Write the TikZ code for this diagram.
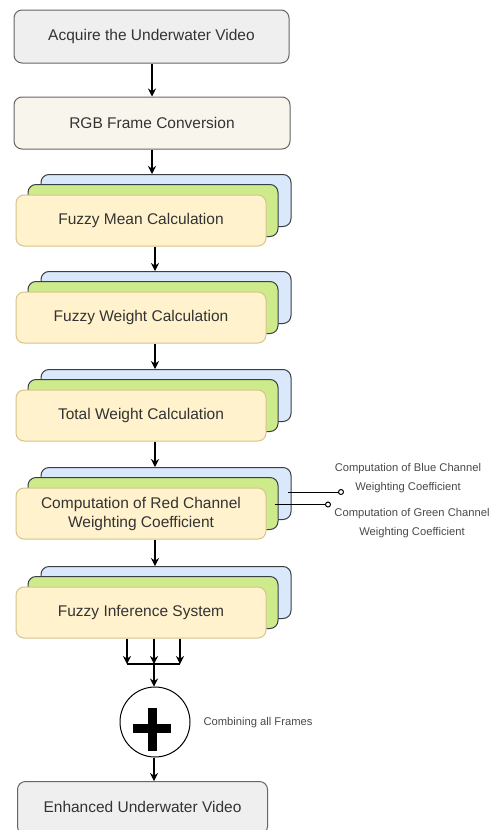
\documentclass[tikz,border=0pt]{standalone}
\usepackage{fontspec}
\setmainfont{Liberation Sans}
\usetikzlibrary{arrows.meta,calc}
\definecolor{bfill}{HTML}{DAE8FC}
\definecolor{gfill}{HTML}{CDEB8B}
\definecolor{yfill}{HTML}{FFF2CC}
\definecolor{ystroke}{HTML}{D6C48A}
\definecolor{greyfill}{HTML}{EFEFEF}
\definecolor{creamfill}{HTML}{F8F6EC}
\definecolor{dstroke}{HTML}{3A3F45}
\definecolor{txt}{HTML}{333333}
\definecolor{sidetxt}{HTML}{4A4A4A}
\tikzset{
  base/.style={draw, rounded corners=8pt, line width=1pt, inner sep=0pt, align=center,
    font=\fontsize{15.5}{19}\selectfont, text=txt},
  greybox/.style={base, draw=gray!80!black, fill=greyfill, minimum width=275pt, minimum height=53pt},
  creambox/.style={base, draw=gray!80!black, fill=creamfill, minimum width=276pt, minimum height=52pt},
  bbox/.style={base, draw=dstroke, fill=bfill, minimum width=250pt, minimum height=52pt},
  gbox/.style={base, draw=dstroke, fill=gfill, minimum width=250pt, minimum height=52pt},
  ybox/.style={base, draw=ystroke, fill=yfill, minimum width=250pt, minimum height=51pt},
  arr/.style={line width=1.1pt, -{Stealth[length=8pt,width=8pt]}},
  sidelab/.style={align=center, inner sep=0pt, text=sidetxt, font=\fontsize{11.2}{19}\selectfont},
  tap/.style={line width=1pt, -{Circle[open,length=6pt,width=6pt]}},
}
\newcommand\stk[3]{%
  \node[bbox] (#1b) at (166,{#2-20}) {};
  \node[gbox] (#1g) at (153,{#2-10}) {};
  \node[ybox] (#1y) at (141,#2) {#3};}
\begin{document}
\begin{tikzpicture}[x=1pt,y=-1pt]
\useasboundingbox (0,0) rectangle (497,830);
\clip (0,0) rectangle (497,830);
\fill[white] (0,0) rectangle (497,830);
\coordinate (ax) at (155,0);
\coordinate (a0) at (152,0);
\node[greybox] (acq) at (151.5,36.5) {Acquire the Underwater Video};
\node[creambox] (rgb) at (152,123) {RGB Frame Conversion};
\stk{s1}{220.5}{Fuzzy Mean Calculation}
\stk{s2}{317.5}{Fuzzy Weight Calculation}
\stk{s3}{415.5}{Total Weight Calculation}
\stk{s4}{513.5}{Computation of Red Channel\\Weighting Coefficient}
\stk{s5}{612.5}{Fuzzy Inference System}
\node[draw, circle, line width=1pt, minimum size=70pt, inner sep=0pt] (plus) at (155,722) {};
\fill[black] ($(plus.center)+(-22,1.5)$) rectangle ($(plus.center)+(16,11)$);
\fill[black] ($(plus.center)+(-7.5,-14)$) rectangle ($(plus.center)+(1.5,29)$);
\node[greybox, minimum width=250pt] (enh) at (142.5,808) {};
\node[text=txt, font=\fontsize{15.5}{19}\selectfont] (enhl) at (142.5,807) {Enhanced Underwater Video};
% connectors
\draw[arr] (acq.south -| a0) -- (rgb.north -| a0);
\draw[arr] (rgb.south -| a0) -- (s1b.north -| a0);
\draw[arr] (s1y.south -| ax) -- (s2b.north -| ax);
\draw[arr] (s2y.south -| ax) -- (s3b.north -| ax);
\draw[arr] (s3y.south -| ax) -- (s4b.north -| ax);
\draw[arr] (s4y.south -| ax) -- (s5b.north -| ax);
\coordinate (bar) at (0,664);
\coordinate (x1) at (127,0);
\coordinate (x2) at (154,0);
\coordinate (x3) at (180,0);
\draw[arr] (s5y.south -| x1) -- (bar -| x1);
\draw[arr] (s5y.south -| x2) -- (bar -| x2);
\draw[arr] (s5y.south -| x3) -- (bar -| x3);
\draw[line width=1.1pt] (bar -| x1) -- (bar -| x3);
\draw[arr] (bar -| x2) -- (plus.north -| x2);
\draw[arr] (plus.south -| x2) -- (enh.north -| x2);
% side labels
\coordinate (cb) at (344,492);
\coordinate (cg) at (331,504.5);
\draw[tap] ([xshift=-4pt]s4b.east |- cb) -- (cb);
\draw[tap] ([xshift=-4pt]s4g.east |- cg) -- (cg);
\node[sidelab] (lblue) at (408,478) {Computation of Blue Channel\\Weighting Coefficient};
\node[sidelab] (lgreen) at (412,523) {Computation of Green Channel\\Weighting Coefficient};
\node[sidelab] (lcomb) at (258,723) {Combining all Frames};
\end{tikzpicture}
\end{document}
